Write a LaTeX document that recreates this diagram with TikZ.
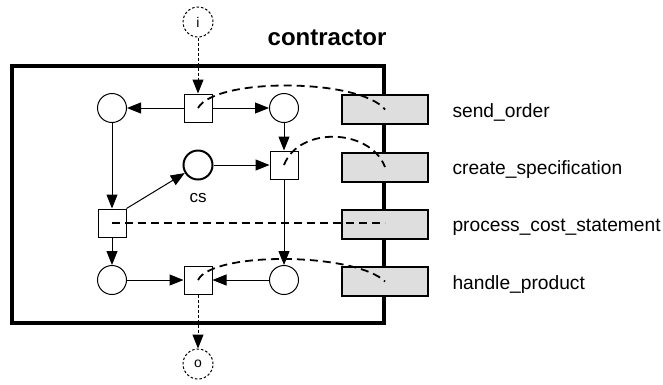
\documentclass[tikz,border=0pt]{standalone}
\usepackage{fontspec}
\setmainfont{Liberation Sans}
\usetikzlibrary{arrows.meta}
\begin{document}
\begin{tikzpicture}[x=1pt,y=-1pt,
  place/.style={circle,draw,line width=1pt,minimum size=29pt,inner sep=0pt,fill=white},
  trans/.style={rectangle,draw,line width=1pt,minimum size=28pt,inner sep=0pt,fill=white},
  iface/.style={circle,draw,line width=1pt,dash pattern=on 2.5pt off 2pt,minimum size=30pt,inner sep=0pt,fill=white,font=\fontsize{14}{14}\selectfont},
  arc/.style={line width=1pt,-{Triangle[length=14pt,width=11pt]}},
  darc/.style={arc,dash pattern=on 3pt off 2pt},
  link/.style={line width=1.8pt,dash pattern=on 8pt off 5pt},
  task/.style={rectangle,draw,line width=2pt,fill=black!13,minimum width=86pt,minimum height=29pt,inner sep=0pt},
  lbl/.style={anchor=base west,font=\fontsize{19.2}{20}\selectfont},
]
\useasboundingbox (0,0) rectangle (663,384);
% title and border
\node[anchor=base,font=\bfseries\fontsize{24}{24}\selectfont] (title) at (327,45) {contractor};
\draw[line width=4pt] (12,65.5) rectangle (384,323);
% tasks
\node[task] (so) at (385,109.5) {};
\node[task] (cspec) at (385,167) {};
\node[task] (pcs) at (385,224) {};
\node[task] (hp) at (385,281.5) {};
\node[lbl] (lso) at (449,117) {send\_order};
\node[lbl] (lcspec) at (449,174.5) {create\_specification};
\node[lbl] (lpcs) at (449,231.5) {process\_cost\_statement};
\node[lbl] (lhp) at (449,289) {handle\_product};
% net
\node[iface] (i) at (198,22) {i};
\node[iface] (o) at (198,364) {o};
\node[trans] (t1) at (198,108) {};
\node[place] (p1) at (112,108) {};
\node[place] (p2) at (284,108) {};
\node[place,line width=2pt] (cs) at (198,165) {};
\node[anchor=base,font=\fontsize{17}{17}\selectfont] (cslbl) at (198,202) {cs};
\node[trans] (t2) at (284,165) {};
\node[trans] (t3) at (112,223) {};
\node[place] (p4) at (112,280) {};
\node[trans] (t4) at (198,280) {};
\node[place] (p5) at (284,280) {};
% arcs
\draw[darc] (i) -- (t1);
\draw[arc] (t1) -- (p1);
\draw[arc] (t1) -- (p2);
\draw[arc] (p1) -- (t3);
\draw[arc] (p2) -- (t2);
\draw[arc] (t3.north east) -- (cs);
\draw[arc] (cs) -- (t2);
\draw[arc] (t3) -- (p4);
\draw[arc] (p4) -- (t4);
\draw[arc] (t2) -- (p5);
\draw[arc] (p5) -- (t4);
\draw[darc] (t4) -- (o);
% links to tasks
\draw[link] (t1.center) .. controls +(18,-31) and +(-25,-31) .. (so.center);
\draw[link] (t2.center) .. controls +(15,-39) and +(-15,-39) .. (cspec.center);
\draw[link] (t3.center) -- (t3.center -| pcs.center);
\draw[link] (t4.center) .. controls +(15,-29) and +(-30,-29) .. (hp.center);
\end{tikzpicture}
\end{document}
